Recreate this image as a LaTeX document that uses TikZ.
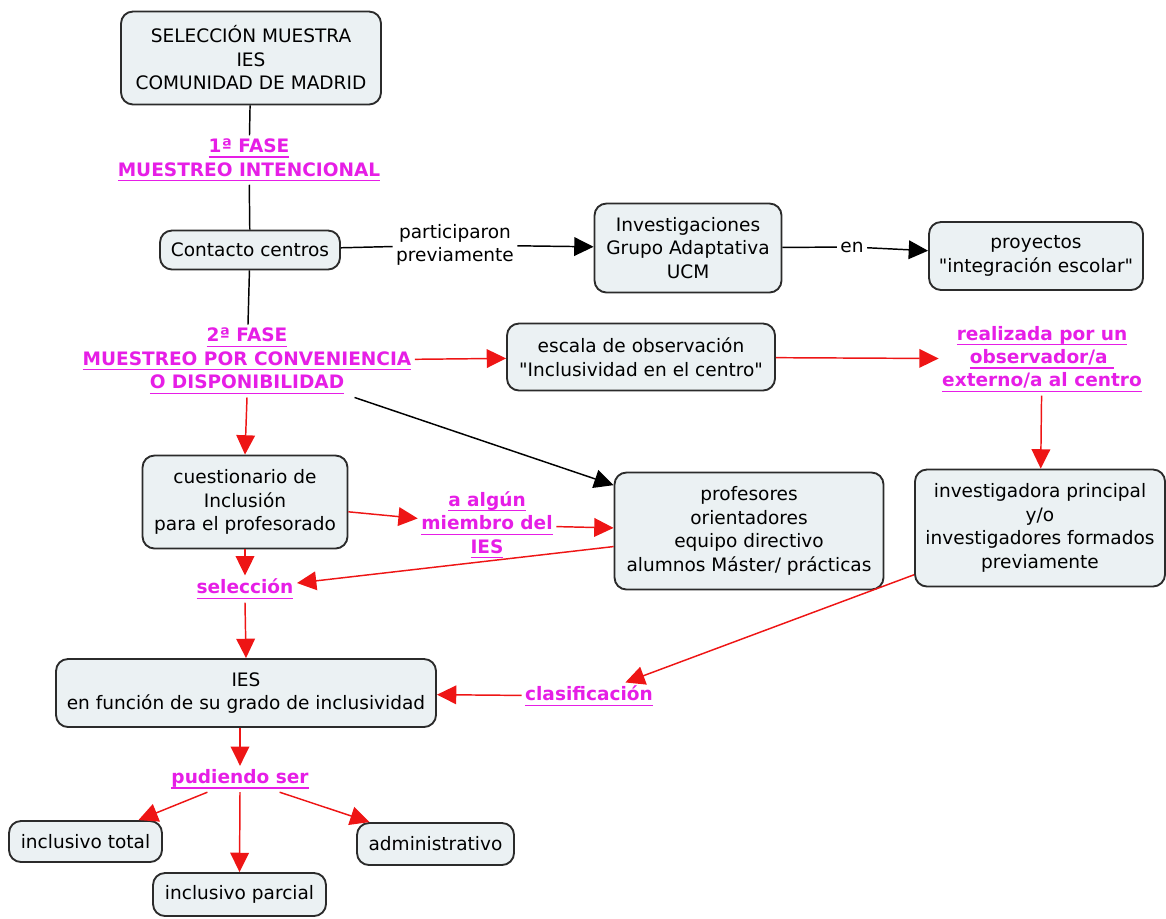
\documentclass[tikz,border=0pt]{standalone}
\usepackage{fontspec}
\setmainfont{DejaVu Sans}[Ligatures=TeXOff]
\usetikzlibrary{arrows.meta,calc}
\definecolor{boxfill}{HTML}{EBF1F3}
\definecolor{boxline}{HTML}{2B2B2B}
\definecolor{mag}{HTML}{E61EE6}
\definecolor{redline}{HTML}{EE1515}
\newcommand\ulx[1]{\setbox0\hbox{#1}\leavevmode\rlap{\rule[-3.8pt]{\wd0}{0.9pt}}\box0}
\begin{document}
\begin{tikzpicture}[x=0.75pt,y=-0.75pt,
  box/.style={draw=boxline, line width=1.4pt, fill=boxfill, rounded corners=9pt, align=center,
    font=\fontsize{13.9}{17.6}\selectfont, inner sep=0pt},
  lab/.style={align=center, text=mag, font=\bfseries\fontsize{13.9}{17.6}\selectfont, inner sep=2.5pt},
  plain/.style={align=center, font=\fontsize{13.9}{17.6}\selectfont, inner sep=2.5pt},
  conn/.style={line width=1.1pt, black},
  rconn/.style={line width=1.1pt, redline},
  arr/.style={-{Triangle[length=14.5pt,width=14pt]}},
]
\useasboundingbox (0,0) rectangle (1166,918);

% boxes
\node[box, minimum width={260*0.75pt}, minimum height={93*0.75pt}] (top) at (251,58)
  {SELECCIÓN MUESTRA\\IES\\COMUNIDAD DE MADRID};
\node[box, minimum width={180*0.75pt}, minimum height={39*0.75pt}] (con) at (250,250)
  {Contacto centros};
\node[box, minimum width={187*0.75pt}, minimum height={89*0.75pt}] (inv) at (688,248)
  {Investigaciones\\Grupo Adaptativa\\UCM};
\node[box, minimum width={214*0.75pt}, minimum height={68*0.75pt}] (pro) at (1036,256)
  {proyectos\\"integración escolar"};
\node[box, minimum width={268*0.75pt}, minimum height={67*0.75pt}] (esc) at (641,357)
  {escala de observación\\"Inclusividad en el centro"};
\node[box, minimum width={205*0.75pt}, minimum height={93*0.75pt}] (cue) at (245,502)
  {cuestionario de\\Inclusión\\para el profesorado};
\node[box, minimum width={269*0.75pt}, minimum height={117*0.75pt}] (prof) at (749,531)
  {profesores\\orientadores\\equipo directivo\\alumnos Máster/ prácticas};
\node[box, minimum width={250*0.75pt}, minimum height={117*0.75pt}] (ivg) at (1040,528)
  {investigadora principal\\y/o\\investigadores formados\\previamente};
\node[box, minimum width={380*0.75pt}, minimum height={68*0.75pt}] (ies) at (246,693)
  {IES\\en función de su grado de inclusividad};
\node[box, minimum width={153*0.75pt}, minimum height={41*0.75pt}] (tot) at (85.5,841.5)
  {inclusivo total};
\node[box, minimum width={173*0.75pt}, minimum height={43*0.75pt}] (par) at (239.5,894.5)
  {inclusivo parcial};
\node[box, minimum width={157*0.75pt}, minimum height={42*0.75pt}] (adm) at (435.5,844)
  {administrativo};

% linking labels
\node[lab] (f1) at (249,160) {\ulx{1ª FASE}\\\ulx{MUESTREO INTENCIONAL}};
\node[plain] (par1) at (455,245) {participaron\\previamente};
\node[plain] (en) at (852,247) {en};
\node[lab] (f2) at (247,361) {\ulx{2ª FASE}\\\ulx{MUESTREO POR CONVENIENCIA}\\\ulx{O DISPONIBILIDAD}};
\node[lab] (rea) at (1042,359) {\ulx{realizada por un}\\\ulx{observador/a }\\\ulx{externo/a al centro}};
\node[lab] (alg) at (487,525) {\ulx{a algún}\\\ulx{miembro del}\\\ulx{IES}};
\node[lab] (sel) at (245,589) {\ulx{selección}};
\node[lab] (cla) at (589,696) {\ulx{clasificación}};
\node[lab] (pud) at (240,779) {\ulx{pudiendo ser}};

% black connectors
\draw[conn] (top) -- (f1);
\draw[conn] (f1) -- (con);
\draw[conn] (con) -- (par1);
\draw[conn,arr] (par1) -- (inv);
\draw[conn] (inv) -- (en);
\draw[conn,arr] (en) -- (pro);
\draw[conn] (con) -- (f2);
\draw[conn,arr] (f2) -- (prof);

% red connectors
\draw[rconn,arr] (f2) -- (esc);
\draw[rconn,arr] (esc) -- (rea);
\draw[rconn,arr] (rea) -- (ivg);
\draw[rconn,arr] (f2.south) -- (cue.north);
\draw[rconn,arr] (cue) -- (alg);
\draw[rconn,arr] (alg) -- (prof);
\draw[rconn,arr] (prof) -- (sel);
\draw[rconn,arr] (cue.south) -- (sel.north);
\draw[rconn,arr] (sel.south) -- (ies.north);
\draw[rconn,arr] (ivg) -- (cla);
\draw[rconn,arr] (cla) -- (ies);
\draw[rconn,arr] (ies.south -| pud.north) -- (pud.north);
\draw[rconn,arr] (pud) -- (tot);
\draw[rconn,arr] (pud.south) -- (par.north);
\draw[rconn,arr] (pud) -- (adm);
\end{tikzpicture}
\end{document}
